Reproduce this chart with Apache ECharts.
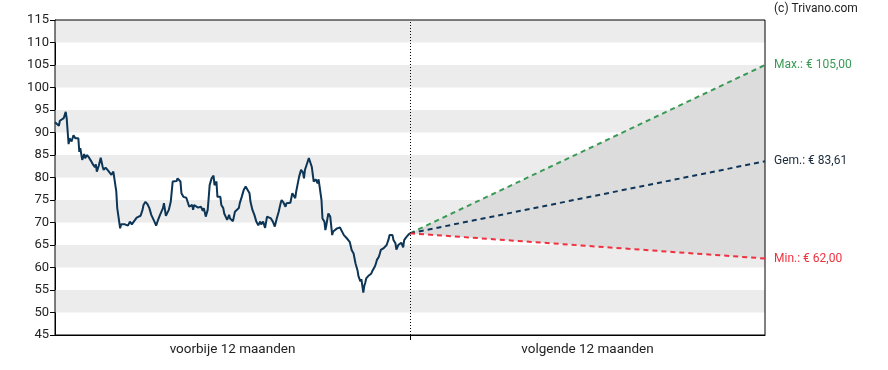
<!DOCTYPE html>
<html>
<head>
<meta charset="utf-8">
<script src="https://cdn.jsdelivr.net/npm/echarts@6/dist/echarts.min.js"></script>
<style>
html,body{margin:0;padding:0;background:#fff;}
#main{width:888px;height:370px;}
</style>
</head>
<body>
<div id="main"></div>
<script>
// Past 12 months: day offsets and closing prices (EUR)
const pastDays = [0,2,4,5,7,9,11,12,14,15,17,19,21,22,24,25,26,28,30,31,33,35,37,39,41,42,43,45,47,49,50,52,54,56,58,60,62,63,64,67,68,70,72,74,75,77,79,81,83,84,86,88,90,91,93,95,97,99,101,102,104,106,108,110,111,112,114,116,117,119,121,123,125,126,127,129,130,132,133,135,137,138,141,142,143,145,147,149,150,152,153,155,157,158,159,161,163,164,166,167,168,170,171,173,174,177,179,180,181,183,184,185,187,189,190,192,194,196,198,200,201,203,204,205,207,209,211,212,214,215,216,218,220,222,223,224,226,228,230,232,233,235,237,238,240,242,243,244,246,247,248,250,251,253,255,256,257,259,261,263,264,266,267,268,270,271,272,274,275,277,278,279,281,282,283,285,286,288,290,292,293,295,297,298,300,301,303,304,305,307,308,309,311,312,314,315,316,317,318,319,320,322,325,326,327,329,330,331,333,334,335,337,338,340,341,343,344,346,347,348,350,351,353,354,356,357,358,359,361,363,365];
const pastPrice = [92.3,92.6,91.5,92.6,92.6,93.2,94.6,93.2,87.4,88.7,88.0,89.4,88.7,89.0,88.7,85.7,86.5,83.9,85.2,84.3,85.0,84.4,83.7,82.9,82.3,82.9,81.3,82.6,84.4,82.4,81.7,82.2,81.7,81.9,80.6,81.3,81.4,76.9,73.2,68.7,69.6,69.3,69.6,70.0,69.3,70.2,69.6,70.2,70.3,71.1,71.3,71.5,72.8,73.9,74.6,74.1,73.2,71.7,71.5,70.3,69.3,70.6,71.7,72.0,73.2,74.3,71.5,71.7,72.8,74.6,79.1,79.4,79.2,79.8,80.2,79.1,76.5,75.7,76.0,75.5,75.4,73.5,73.9,72.8,73.9,74.1,73.3,73.2,73.5,72.6,73.2,71.3,72.8,75.4,78.3,79.8,80.4,78.3,79.1,75.7,75.5,75.7,73.9,73.2,72.0,70.6,71.7,70.9,71.3,70.3,70.2,72.4,72.8,73.2,74.3,75.7,77.2,78.0,77.6,76.5,74.6,72.8,72.4,71.7,70.2,69.4,70.2,69.6,70.2,69.8,68.8,71.3,71.5,70.9,70.9,70.2,69.1,70.9,72.4,74.3,75.0,74.4,73.5,74.3,73.9,74.4,74.6,76.5,76.9,75.4,76.9,76.5,80.2,81.7,81.1,79.8,81.7,83.0,84.3,83.9,82.4,79.1,79.1,79.6,78.7,79.6,78.1,75.0,70.9,70.2,68.3,69.4,72.0,72.4,71.3,67.2,68.0,68.3,68.7,69.1,68.9,68.7,67.2,66.8,66.5,66.1,65.7,65.4,63.9,63.1,62.8,60.9,59.4,58.1,56.9,57.4,55.9,54.4,55.9,56.6,57.6,58.1,58.6,59.1,59.4,60.3,60.9,61.7,62.4,63.1,63.9,63.7,64.3,64.0,65.0,66.3,67.2,67.6,67.2,66.1,65.4,64.0,65.0,65.4,65.5,65.4,64.5,66.1,66.7,67.2,67.6];

// Forecast: next 12 months
const forecastDays = [365, 730];
const forecastMax = [67.6, 105.00];
const forecastMean = [67.6, 83.61];
const forecastMin = [67.6, 62.00];

// Axis texts
const yTicks = [45,50,55,60,65,70,75,80,85,90,95,100,105,110,115];
const periodLabels = ['voorbije 12 maanden', 'volgende 12 maanden'];
const periodCenters = [182.5, 547.5];
const dividerDay = 365;
const copyright = '(c) Trivano.com';

function fmtEuro(v){ return '€ ' + v.toFixed(2).replace('.', ','); }

const pastData = pastDays.map((d,i)=>[d, pastPrice[i]]);
const pair = (arr)=>forecastDays.map((d,i)=>[d, arr[i]]);
const bandRows = forecastDays.map((d,i)=>[d, forecastMin[i], forecastMax[i]]);
// alternate grey stripes: every second 5-unit band, starting at 50-55
const stripes = [];
for (let i = 1; i < yTicks.length - 1; i += 2) stripes.push([{yAxis: yTicks[i]}, {yAxis: yTicks[i+1]}]);

const chart = echarts.init(document.getElementById('main'), null, {renderer:'canvas'});
chart.setOption({
  animation: false,
  backgroundColor: '#fff',
  title: {
    text: copyright, left: 774, top: 3, padding: 0,
    textStyle: {fontFamily: 'Roboto', fontSize: 12, fontWeight: 'normal', color: '#222'}
  },
  grid: {left: 55, right: 123, top: 20, bottom: 35, show: true, z: 2, borderColor: '#000', borderWidth: 1, backgroundColor: 'transparent'},
  xAxis: {
    type: 'value', min: 0, max: 730, interval: 365,
    axisLine: {show: true, lineStyle: {color: '#000', width: 1}},
    axisTick: {show: true, length: 5, customValues: [dividerDay], lineStyle: {color: '#000'}},
    splitLine: {show: false},
    axisLabel: {
      customValues: periodCenters, margin: 8,
      fontFamily: 'Roboto', fontSize: 13.5, color: '#222',
      formatter: (v)=> v < dividerDay ? periodLabels[0] : periodLabels[1]
    }
  },
  yAxis: {
    type: 'value', min: 45, max: 115, interval: 5,
    axisLine: {show: true, lineStyle: {color: '#000', width: 1}},
    axisTick: {show: true, length: 5, lineStyle: {color: '#000'}},
    splitLine: {show: false},
    splitArea: {show: false},
    axisLabel: {margin: 6, fontFamily: 'Roboto', fontSize: 13, color: '#222',
      formatter: (v)=> yTicks.includes(v) ? String(v) : ''}
  },
  series: [
    {
      name: 'stripes', type: 'line', data: [], silent: true, z: 0,
      markArea: {silent: true, itemStyle: {color: '#ececec'}, label: {show: false}, data: stripes}
    },
    {
      name: 'band', type: 'custom', data: bandRows, silent: true, z: 1,
      encode: {x: 0, y: [1, 2]},
      renderItem: function(params, api){
        if (params.dataIndex !== 0) return null;
        const pts = [];
        bandRows.forEach(r => pts.push(api.coord([r[0], r[2]])));
        bandRows.slice().reverse().forEach(r => pts.push(api.coord([r[0], r[1]])));
        return {type: 'polygon', shape: {points: pts}, style: {fill: '#dcdcdc'}};
      }
    },
    {
      name: 'max', type: 'line', data: pair(forecastMax), symbol: 'none', z: 3,
      lineStyle: {color: '#3a9a55', width: 2, type: [5, 4]},
      endLabel: {show: true, distance: 9, formatter: 'Max.: ' + fmtEuro(forecastMax[1]), color: '#3a9a55', fontFamily: 'Roboto', fontSize: 12}
    },
    {
      name: 'mean', type: 'line', data: pair(forecastMean), symbol: 'none', z: 3,
      lineStyle: {color: '#0f3658', width: 2, type: [5, 4]},
      endLabel: {show: true, distance: 9, formatter: 'Gem.: ' + fmtEuro(forecastMean[1]), color: '#1a2a3a', fontFamily: 'Roboto', fontSize: 12}
    },
    {
      name: 'min', type: 'line', data: pair(forecastMin), symbol: 'none', z: 3,
      lineStyle: {color: '#f0303f', width: 2, type: [5, 4]},
      endLabel: {show: true, distance: 9, formatter: 'Min.: ' + fmtEuro(forecastMin[1]), color: '#f0303f', fontFamily: 'Roboto', fontSize: 12}
    },
    {
      name: 'koers', type: 'line', data: pastData, symbol: 'none', z: 4,
      lineStyle: {color: '#0d3556', width: 2},
      markLine: {
        silent: true, symbol: 'none', label: {show: false},
        lineStyle: {color: '#000', width: 1, type: [1, 2]},
        data: [{xAxis: dividerDay}]
      }
    }
  ]
});
</script>
</body>
</html>
